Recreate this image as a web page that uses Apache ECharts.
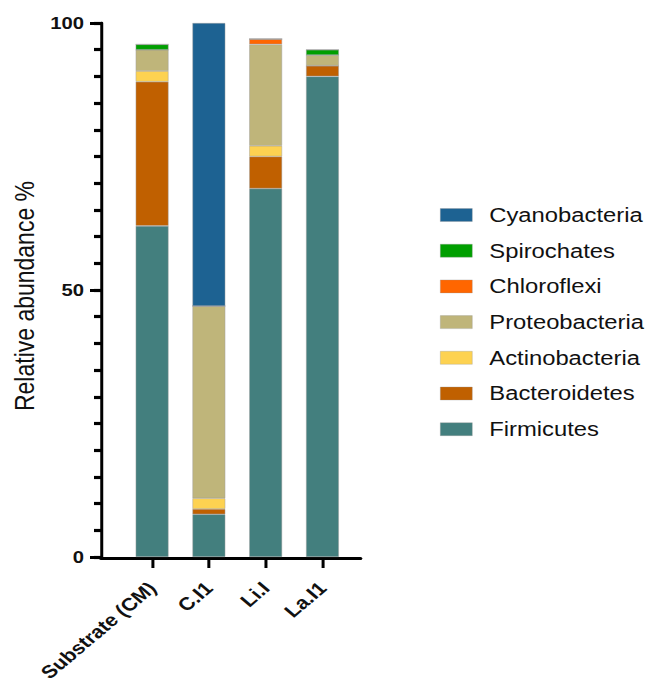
<!DOCTYPE html>
<html>
<head>
<meta charset="utf-8">
<script src="https://cdn.jsdelivr.net/npm/echarts@6/dist/echarts.min.js"></script>
<style>
  html, body { margin: 0; padding: 0; background: #fff; overflow: hidden; }
  #wrap { width: 648px; height: 684px; overflow: hidden; }
  /* the figure is laid out narrower and widened horizontally */
  #chart { height: 684px; transform-origin: 0 0; }
</style>
</head>
<body>
<div id="wrap"><div id="chart"></div></div>
<script>
// Samples along the x axis
const samples = ['Substrate (CM)', 'C.I1', 'Li.I', 'La.I1'];

// Relative abundance (%) of each phylum per sample, bottom of stack first
const firmicutes     = [62, 8, 69, 90];
const bacteroidetes  = [27, 1, 6, 2];
const actinobacteria = [2, 2, 2, 0];
const proteobacteria = [4, 36, 19, 2];
const chloroflexi    = [0, 0, 1, 0];
const spirochates    = [1, 0, 0, 1];
const cyanobacteria  = [0, 53, 0, 0];

// Labelled ticks on the value axis, and the step of the small ticks between them
const yTicks = [0, 50, 100];
const yMinorStep = 5;

const phyla = [
  { name: 'Firmicutes',     data: firmicutes,     color: '#437f7e' },
  { name: 'Bacteroidetes',  data: bacteroidetes,  color: '#c06000' },
  { name: 'Actinobacteria', data: actinobacteria, color: '#fdd251' },
  { name: 'Proteobacteria', data: proteobacteria, color: '#bfb57a' },
  { name: 'Chloroflexi',    data: chloroflexi,    color: '#ff6600' },
  { name: 'Spirochates',    data: spirochates,    color: '#009f00' },
  { name: 'Cyanobacteria',  data: cyanobacteria,  color: '#1d6292' }
];

const FONT = '"Liberation Sans", Arial, Helvetica, sans-serif';

// horizontal widening of the whole figure
const STRETCH = 1.19;
const W = 648 / STRETCH;
const sx = v => v / STRETCH;   // page-x distance -> layout-x distance

const el = document.getElementById('chart');
el.style.width = W + 'px';
el.style.transform = 'scaleX(' + STRETCH + ')';

const TOP = 23, BOTTOM = 126;
const AXIS_X = 102;            // page x of the value axis line
const BAR_LEFT = 123.7;        // page x where the category band starts
const LEGEND_PAD = 5;          // echarts default legend padding

const Y_MIN = yTicks[0];
const Y_MAX = yTicks[yTicks.length - 1];

const chart = echarts.init(el, null, { renderer: 'svg' });

chart.setOption({
  animation: false,
  backgroundColor: '#ffffff',
  grid: [
    // bar area
    { left: sx(BAR_LEFT), right: W - sx(350.3), top: TOP, bottom: BOTTOM },
    // baseline spanning the whole plot
    { left: sx(AXIS_X - 1), right: W - sx(360), top: TOP, bottom: BOTTOM }
  ],
  legend: {
    orient: 'vertical',
    left: sx(440) - LEGEND_PAD,
    top: 205 - LEGEND_PAD,
    itemWidth: sx(32),
    itemHeight: 13,
    itemGap: 15.7,
    icon: 'rect',
    data: phyla.map(p => p.name).reverse(),
    itemStyle: { borderColor: 'rgba(150,150,150,0.6)', borderWidth: 0.5 },
    textStyle: {
      fontFamily: FONT, fontSize: 20, lineHeight: 20, color: '#111',
      padding: [0, 0, 0, sx(17) - 5]
    }
  },
  xAxis: [
    {
      type: 'category',
      gridIndex: 0,
      data: samples,
      axisLine: { show: false },
      axisTick: { show: true, alignWithLabel: true, length: 11, lineStyle: { color: '#000', width: sx(3) } },
      axisLabel: {
        rotate: 45,
        interval: 0,
        margin: 28,
        fontFamily: FONT,
        fontSize: 18,
        fontWeight: 'bold',
        color: '#111'
      }
    },
    {
      type: 'value',
      gridIndex: 1,
      min: 0,
      max: 1,
      axisLine: { show: true, lineStyle: { color: '#000', width: 3 } },
      axisTick: { show: false },
      axisLabel: { show: false },
      splitLine: { show: false }
    }
  ],
  yAxis: [
    {
      // labelled axis with the long ticks
      type: 'value',
      gridIndex: 0,
      min: Y_MIN,
      max: Y_MAX,
      interval: yTicks[1] - yTicks[0],
      offset: sx(BAR_LEFT - AXIS_X),
      name: 'Relative abundance %',
      nameLocation: 'middle',
      nameGap: sx(64),
      nameTextStyle: { fontFamily: FONT, fontSize: 23, color: '#111', padding: [0, 12, 0, 0] },
      axisLine: { show: true, lineStyle: { color: '#000', width: sx(3) } },
      axisTick: { show: true, length: sx(12), lineStyle: { color: '#000', width: 3 } },
      axisLabel: { margin: sx(18), fontFamily: FONT, fontSize: 17, fontWeight: 'bold', color: '#111' },
      splitLine: { show: false }
    },
    {
      // small ticks every 5 %
      type: 'value',
      gridIndex: 0,
      position: 'left',
      min: Y_MIN,
      max: Y_MAX,
      interval: yMinorStep,
      offset: sx(BAR_LEFT - AXIS_X),
      axisLine: { show: false },
      axisTick: { show: true, length: sx(8), lineStyle: { color: '#000', width: 3.2 } },
      axisLabel: { show: false },
      splitLine: { show: false }
    },
    {
      type: 'value',
      gridIndex: 1,
      show: false,
      min: 0,
      max: 1
    }
  ],
  series: phyla.map(p => ({
    name: p.name,
    type: 'bar',
    stack: 'total',
    xAxisIndex: 0,
    yAxisIndex: 0,
    barWidth: sx(33),
    data: p.data,
    itemStyle: { color: p.color, borderColor: 'rgba(160,160,160,0.7)', borderWidth: 0.6 }
  }))
});
</script>
</body>
</html>
